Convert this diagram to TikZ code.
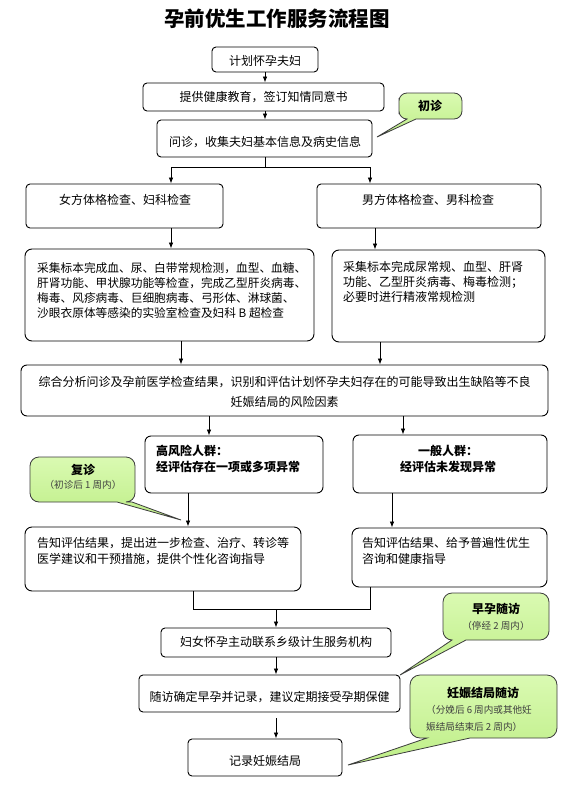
\documentclass[tikz,border=0pt]{standalone}
\usepackage{fontspec}
\setmainfont{Noto Sans CJK SC}
\usetikzlibrary{arrows.meta}
\definecolor{cgtop}{RGB}{218,250,178}
\definecolor{cgbot}{RGB}{190,238,135}
\definecolor{cgline}{RGB}{60,60,60}
\begin{document}
\begin{tikzpicture}[x=1pt,y=-1pt,
  box/.style={draw=black, line width=0.9pt, rounded corners=4pt, inner sep=0pt, fill=white},
  txt/.style={inner sep=0pt, font=\fontsize{12}{15}\selectfont, align=left},
  btxt/.style={inner sep=0pt, font=\fontsize{12}{16}\selectfont\bfseries, align=left},
  stxt/.style={inner sep=0pt, font=\fontsize{9.6}{17}\selectfont, text=black!75, align=left},
  ln/.style={line width=0.8pt},
  arr/.style={line width=0.8pt, -{Latex[length=6pt,width=4.5pt]}},
  callout/.style={draw=cgline, line width=0.8pt, top color=cgtop, bottom color=cgbot}
]
\fill[white] (0,0) rectangle (576,795);
\useasboundingbox (0,0) rectangle (576,795);

% title
\node[inner sep=0pt, font=\fontsize{20.5}{22}\selectfont\bfseries] (title) at (277,19) {孕前优生工作服务流程图};

% boxes
\node[box, minimum width=106pt, minimum height=25pt] (b1) at (265,59.5) {};
\node[box, minimum width=241pt, minimum height=28pt] (b2) at (263.5,97) {};
\node[box, minimum width=215pt, minimum height=37pt] (b3) at (264.5,138.5) {};
\node[box, minimum width=197pt, minimum height=44pt] (b4) at (124.5,206) {};
\node[box, minimum width=224pt, minimum height=44pt] (b5) at (429,206) {};
\node[box, minimum width=289pt, minimum height=92pt, rounded corners=7pt] (b6) at (169.5,295) {};
\node[box, minimum width=213pt, minimum height=92pt, rounded corners=7pt] (b7) at (438.5,296) {};
\node[box, minimum width=527pt, minimum height=51pt, rounded corners=6pt] (b8) at (284.5,390.5) {};
\node[box, minimum width=178pt, minimum height=57pt, rounded corners=6pt] (b9) at (234,464.5) {};
\node[box, minimum width=194pt, minimum height=58pt, rounded corners=6pt] (b10) at (450,464) {};
\node[box, minimum width=276pt, minimum height=64pt, rounded corners=7pt] (b11) at (163,559) {};
\node[box, minimum width=195pt, minimum height=59pt, rounded corners=7pt] (b12) at (449.5,557.5) {};
\node[box, minimum width=230pt, minimum height=29pt] (b13) at (276,642.5) {};
\node[box, minimum width=261pt, minimum height=37pt] (b14) at (269.5,693.5) {};
\node[box, minimum width=154pt, minimum height=37pt] (b15) at (265,757.5) {};

% texts
\node[txt] (t1) at (265,61) {计划怀孕夫妇};
\node[txt] (t2) at (263.5,97) {提供健康教育，签订知情同意书};
\node[txt] (t3) at (265,142) {问诊，收集夫妇基本信息及病史信息};
\node[txt] (t4) at (125,200) {女方体格检查、妇科检查};
\node[txt] (t5) at (428,200) {男方体格检查、男科检查};
\node[txt, anchor=west, font=\fontsize{11.7}{15}\selectfont] (t6) at (37,290.5)
  {采集标本完成血、尿、白带常规检测，血型、血糖、\\肝肾功能、甲状腺功能等检查，完成乙型肝炎病毒、\\梅毒、风疹病毒、巨细胞病毒、弓形体、淋球菌、\\沙眼衣原体等感染的实验室检查及妇科 B 超检查};
\node[txt, anchor=west] (t7) at (343,282)
  {采集标本完成尿常规、血型、肝肾\\功能、乙型肝炎病毒、梅毒检测；\\必要时进行精液常规检测};
\node[txt, align=center, font=\fontsize{12}{20}\selectfont] (t8) at (284.5,392)
  {综合分析问诊及孕前医学检查结果，识别和评估计划怀孕夫妇存在的可能导致出生缺陷等不良\\妊娠结局的风险因素};
\node[btxt, anchor=west] (t9) at (156,459) {高风险人群：\\经评估存在一项或多项异常};
\node[btxt, align=center] (t10) at (448,459) {一般人群：\\经评估未发现异常};
\node[txt, anchor=west, font=\fontsize{12}{16}\selectfont] (t11) at (37,551)
  {告知评估结果，提出进一步检查、治疗、转诊等\\医学建议和干预措施，提供个性化咨询指导};
\node[txt, anchor=west, font=\fontsize{12}{16}\selectfont] (t12) at (362,551)
  {告知评估结果、给予普遍性优生\\咨询和健康指导};
\node[txt] (t13) at (276,642) {妇女怀孕主动联系乡级计生服务机构};
\node[txt] (t14) at (269.5,697) {随访确定早孕并记录，建议定期接受孕期保健};
\node[txt] (t15) at (265,761) {记录妊娠结局};

% connector junctions
\coordinate (jc) at (265,167);
\coordinate (jl) at (171,167);
\coordinate (jr) at (370,167);
\coordinate (xa) at (375,0);
\coordinate (xb) at (181,0);
\coordinate (xc) at (380,0);
\coordinate (xd) at (209,0);
\coordinate (xe) at (403,0);
\coordinate (xf) at (188,0);
\coordinate (xg) at (392,0);
\coordinate (mL) at (193,609);
\coordinate (mR) at (370,609);
\coordinate (mC) at (276,609);

\draw[arr] (b1.south) -- (b2.north -| b1.south);
\draw[arr] (b2.south -| b1.south) -- (b3.north -| b1.south);
\draw[ln] (b3.south -| jc) -- (jc);
\draw[ln] (jl) -- (jr);
\draw[arr] (jl) -- (b4.north -| jl);
\draw[arr] (jr) -- (b5.north -| jr);
\draw[arr] (b4.south -| jl) -- (b6.north -| jl);
\draw[arr] (b5.south -| xa) -- (b7.north -| xa);
\draw[arr] (b6.south -| xb) -- (b8.north -| xb);
\draw[arr] (b7.south -| xc) -- (b8.north -| xc);
\draw[arr] (b8.south -| xd) -- (b9.north -| xd);
\draw[arr] (b8.south -| xe) -- (b10.north -| xe);
\draw[arr] (b9.south -| xf) -- (b11.north -| xf);
\draw[arr] (b10.south -| xg) -- (b12.north -| xg);
\draw[ln] (b11.south -| mL) -- (mL) -- (mR) -- (b12.south -| mR);
\draw[arr] (mC) -- (b13.north -| mC);
\draw[arr] (b13.south -| mC) -- (b14.north -| mC);
\draw[arr] ([yshift=-6pt]b14.south -| mC) -- (b15.north -| mC);

% callouts
\coordinate (tipA) at (377,137);
\coordinate (tipB) at (181,520);
\coordinate (tipC) at (400,675);
\coordinate (tipD) at (348,765);

\path[callout] (399,106) [rounded corners=8pt] -- (399,93) -- (462,93) -- (462,119)
  [sharp corners] -- (416,119) -- (tipA) -- (407,119) [rounded corners=8pt] -- (399,119) -- cycle;
\node[btxt] (c1) at (430,106) {初诊};

\path[callout] (30,480) [rounded corners=9pt] -- (30,457) -- (135,457) -- (135,502)
  [sharp corners] -- (132,502) -- (tipB) -- (117,502) [rounded corners=9pt] -- (30,502) -- cycle;
\node[btxt] (c2) at (83,470) {复诊};
\node[stxt] (c2s) at (83,485) {（初诊后 1 周内）};

\path[callout] (443,615) [rounded corners=9pt] -- (443,593) -- (549,593) -- (549,640)
  [sharp corners] -- (466,640) -- (tipC) -- (452,640) [rounded corners=9pt] -- (443,640) -- cycle;
\node[btxt] (c3) at (496,609) {早孕随访};
\node[stxt] (c3s) at (496,626) {（停经 2 周内）};

\path[callout] (410,705) [rounded corners=10pt] -- (410,675) -- (557,675) -- (557,738)
  [sharp corners] -- (470,738) -- (tipD) -- (427,738) [rounded corners=10pt] -- (410,738) -- cycle;
\node[btxt] (c4) at (483,693) {妊娠结局随访};
\node[stxt, anchor=west] (c4s) at (426,718.5) {（分娩后 6 周内或其他妊\\娠结局结束后 2 周内）};
\end{tikzpicture}
\end{document}
